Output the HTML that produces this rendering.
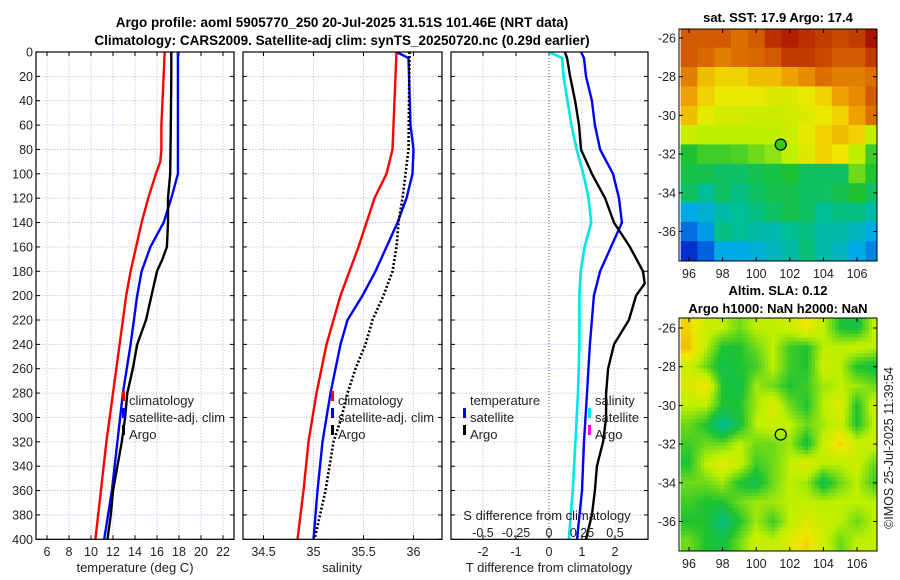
<!DOCTYPE html>
<html><head><meta charset="utf-8"><style>
html,body{margin:0;padding:0;background:#fff;}
svg{display:block;font-family:"Liberation Sans","DejaVu Sans",sans-serif;}
</style></head><body>
<svg id="fig" width="900" height="580" viewBox="0 0 900 580">
<defs>
<clipPath id="clipP1"><rect x="36" y="52" width="198" height="487"/></clipPath>
<clipPath id="clipP2"><rect x="243" y="52" width="199" height="487"/></clipPath>
<clipPath id="clipP3"><rect x="451" y="52" width="197" height="487"/></clipPath>
</defs>
<text x="342" y="27" font-size="13.5" font-weight="bold" text-anchor="middle">Argo profile: aoml 5905770_250 20-Jul-2025 31.51S 101.46E (NRT data)</text>
<text x="342" y="45" font-size="13.5" font-weight="bold" text-anchor="middle">Climatology: CARS2009. Satellite-adj clim: synTS_20250720.nc (0.29d earlier)</text>
<text x="778" y="22" font-size="13" font-weight="bold" text-anchor="middle">sat. SST: 17.9 Argo: 17.4</text>
<text x="778" y="295" font-size="13" font-weight="bold" text-anchor="middle">Altim. SLA: 0.12</text>
<text x="778" y="313" font-size="13" font-weight="bold" text-anchor="middle">Argo h1000: NaN h2000: NaN</text>
<text transform="translate(893,448) rotate(-90)" font-size="12.5" text-anchor="middle" fill="#222">©IMOS 25-Jul-2025 11:39:54</text>
<g id="layer"></g>
</svg>
<script>
// ---------- data ----------
const depthTicks = [0,20,40,60,80,100,120,140,160,180,200,220,240,260,280,300,320,340,360,380,400];
const tTicks = [6,8,10,12,14,16,18,20,22];
const sTicks = [34.5,35,35.5,36];
const dTTicks = [-2,-1,0,1,2];
const dSTicks = [-0.5,-0.25,0,0.25,0.5];
const dSTickLabels = ["-0.5","-0.25","0","0.25","0.5"];

const climTDepth = [0,20,40,60,80,90,100,120,140,160,180,200,240,280,320,360,400];
const climT = [16.7,16.6,16.5,16.4,16.4,16.3,15.9,15.2,14.6,14.1,13.6,13.2,12.6,12.0,11.4,10.9,10.4];
const satTDepth = [0,20,60,100,120,140,160,180,200,240,280,320,360,400];
const satT = [17.9,17.9,17.9,17.9,17.3,16.6,15.4,14.6,14.2,13.6,12.9,12.4,11.9,11.2];
const argoTDepth = [0,20,60,100,120,140,160,170,180,200,220,240,260,280,300,320,340,360,380,400];
const argoT = [17.3,17.3,17.25,17.2,17.0,17.0,16.9,16.5,16.0,15.5,15.0,14.2,13.8,13.3,13.1,12.8,12.4,12.0,11.8,11.5];

const climSDepth = [0,40,80,100,120,160,200,240,280,320,360,400];
const climS = [35.83,35.81,35.79,35.73,35.61,35.45,35.27,35.13,35.03,34.95,34.9,34.84];
const satSDepth = [0,5,60,80,100,120,140,160,180,200,220,240,280,320,360,400];
const satS = [35.83,35.95,35.97,36.0,35.99,35.93,35.84,35.73,35.62,35.49,35.34,35.27,35.17,35.09,35.04,35.0];
const argoSDepth = [0,80,100,120,140,160,180,200,220,240,260,280,300,320,360,400];
const argoS = [35.96,35.95,35.92,35.89,35.85,35.83,35.79,35.7,35.59,35.52,35.42,35.34,35.28,35.2,35.12,35.01];

const diffDepth = [0,5,20,40,60,80,100,120,140,160,180,200,240,280,320,360,400];
const satSDiff = [0.0,0.1,0.11,0.14,0.17,0.21,0.26,0.3,0.32,0.27,0.24,0.23,0.23,0.22,0.2,0.18,0.15];
const satTDiff = [0.97,1.06,1.12,1.3,1.39,1.55,1.94,2.12,2.21,1.88,1.55,1.36,1.24,1.15,1.06,1.0,0.85];
const argoDiffDepth = [0,5,20,40,60,80,100,120,140,160,180,190,200,220,240,260,280,300,320,340,360,380,400];
const argoTDiff = [0.48,0.55,0.64,0.79,0.91,0.97,1.3,1.7,1.97,2.45,2.85,2.9,2.64,2.42,1.97,1.79,1.73,1.73,1.64,1.45,1.39,1.3,1.12];

const mapLons = [96,97,98,99,100,101,102,103,104,105,106,107];
const mapLats = [-26,-27,-28,-29,-30,-31,-32,-33,-34,-35,-36,-37];
const lonTicks = [96,98,100,102,104,106];
const latTicks = [-26,-28,-30,-32,-34,-36];
const sstGrid = [
[0.85,0.85,0.85,0.82,0.85,0.92,0.95,0.92,0.9,0.88,0.9,0.97],
[0.85,0.83,0.8,0.82,0.83,0.85,0.9,0.9,0.88,0.85,0.85,0.9],
[0.8,0.72,0.7,0.7,0.72,0.72,0.75,0.78,0.82,0.8,0.8,0.82],
[0.75,0.7,0.67,0.67,0.67,0.65,0.65,0.67,0.7,0.75,0.78,0.85],
[0.72,0.66,0.63,0.63,0.62,0.62,0.63,0.65,0.67,0.7,0.75,0.82],
[0.62,0.6,0.6,0.6,0.6,0.6,0.62,0.66,0.7,0.72,0.7,0.6],
[0.5,0.52,0.52,0.53,0.55,0.57,0.6,0.65,0.7,0.68,0.6,0.52],
[0.48,0.47,0.45,0.45,0.47,0.48,0.5,0.45,0.45,0.45,0.55,0.5],
[0.45,0.4,0.45,0.42,0.45,0.47,0.47,0.45,0.45,0.47,0.5,0.45],
[0.3,0.33,0.38,0.4,0.42,0.45,0.47,0.45,0.4,0.42,0.42,0.38],
[0.22,0.28,0.42,0.4,0.38,0.37,0.4,0.42,0.38,0.38,0.35,0.3],
[0.12,0.2,0.3,0.3,0.32,0.35,0.38,0.43,0.38,0.35,0.3,0.25]];
const slaGrid = [
[0.7,0.62,0.6,0.55,0.6,0.6,0.62,0.68,0.6,0.5,0.48,0.6],
[0.72,0.6,0.5,0.5,0.55,0.6,0.52,0.5,0.6,0.6,0.62,0.6],
[0.62,0.55,0.47,0.5,0.52,0.6,0.52,0.5,0.62,0.6,0.5,0.48],
[0.65,0.68,0.5,0.47,0.58,0.55,0.5,0.52,0.58,0.6,0.58,0.55],
[0.6,0.6,0.5,0.5,0.58,0.65,0.55,0.5,0.6,0.65,0.5,0.62],
[0.55,0.5,0.4,0.48,0.6,0.62,0.6,0.55,0.58,0.62,0.5,0.6],
[0.52,0.55,0.55,0.6,0.55,0.55,0.58,0.48,0.62,0.7,0.62,0.62],
[0.5,0.6,0.65,0.62,0.52,0.55,0.6,0.65,0.6,0.6,0.62,0.55],
[0.55,0.55,0.58,0.5,0.47,0.55,0.6,0.58,0.47,0.55,0.6,0.52],
[0.52,0.5,0.5,0.55,0.58,0.58,0.6,0.6,0.6,0.6,0.6,0.6],
[0.5,0.5,0.42,0.5,0.58,0.52,0.6,0.65,0.62,0.6,0.55,0.6],
[0.55,0.5,0.48,0.55,0.62,0.6,0.65,0.7,0.62,0.55,0.6,0.6]];
const argoLon = 101.46, argoLat = -31.51;

// ---------- helpers ----------
const NS = "http://www.w3.org/2000/svg";
const layer = document.getElementById('layer');
function mk(tag, attrs, parent){ const e=document.createElementNS(NS,tag); for(const k in attrs) e.setAttribute(k,attrs[k]); (parent||layer).appendChild(e); return e; }
const TOP=52, BOT=539.3;
const yD = d => TOP + (BOT-TOP)*d/400;
const xT = t => 47 + (t-6)*11;
const xS = s => 263.5 + (s-34.5)*100;
const xDT = t => 549 + t*33;
const xDS = s => 549 + s*132;
const mx = lon => 689 + (lon-96)*16.8;
const myTop = lat => 38 + (-26-lat)*19.35;
const myBot = lat => 328 + (-26-lat)*19.35;

const cmapStops = [[0,[0,0,140]],[0.15,[0,60,220]],[0.3,[0,170,230]],[0.4,[0,190,150]],[0.5,[30,195,50]],[0.6,[190,240,0]],[0.68,[240,230,0]],[0.75,[240,160,0]],[0.85,[210,90,0]],[1,[160,0,0]]];
function jet(v){
  v=Math.max(0,Math.min(1,v));
  for(let i=1;i<cmapStops.length;i++){
    if(v<=cmapStops[i][0]){
      const [a,ca]=cmapStops[i-1],[b,cb]=cmapStops[i];
      const f=(v-a)/(b-a);
      return `rgb(${Math.round(ca[0]+(cb[0]-ca[0])*f)},${Math.round(ca[1]+(cb[1]-ca[1])*f)},${Math.round(ca[2]+(cb[2]-ca[2])*f)})`;
    }
  }
  return 'rgb(160,0,0)';
}

function panel(name, x0, x1, xticks, xfun, xlabels){
  const g = mk('g',{});
  
  
  xticks.forEach((t,i)=>{
    const x=xfun(t);
    const l=mk('line',{x1:x,x2:x,y1:TOP,y2:BOT,stroke:'#b8c0e8','stroke-width':0.8,'stroke-dasharray':'1.5,1.5'},g);
    
    
    mk('line',{x1:x,x2:x,y1:BOT,y2:BOT-4,stroke:'#000'},g);
    mk('line',{x1:x,x2:x,y1:TOP,y2:TOP+4,stroke:'#000'},g);
    if(xlabels){
      const tx=mk('text',{x:x,y:556,'font-size':12.5,'text-anchor':'middle',fill:'#222'},g);
      tx.textContent=xlabels[i];
      
      
    }
  });
  depthTicks.forEach(d=>{
    const y=yD(d);
    const l=mk('line',{x1:x0,x2:x1,y1:y,y2:y,stroke:'#b8c0e8','stroke-width':0.8,'stroke-dasharray':'1.5,1.5'},g);
    
    
    mk('line',{x1:x0,x2:x0+4,y1:y,y2:y,stroke:'#000'},g);
    mk('line',{x1:x1,x2:x1-4,y1:y,y2:y,stroke:'#000'},g);
  });
  return g;
}
function line(name, xs, ds, xfun, color, w, dash, clip){
  const pts = xs.map((v,i)=>xfun(v).toFixed(1)+','+yD(ds[i]).toFixed(1)).join(' ');
  const p = mk('polyline',{points:pts,fill:'none',stroke:color,'stroke-width':w,'stroke-linejoin':'round','clip-path':'url(#'+clip+')'});
  if(dash) p.setAttribute('stroke-dasharray',dash);
  
  
}
function frame(name,x0,x1){
  const r=mk('rect',{x:x0,y:TOP,width:x1-x0,height:BOT-TOP,fill:'none',stroke:'#000','stroke-width':1.2});
  
  
}
function txt(name,s,x,y,size,anchor,fill){
  const t=mk('text',{x:x,y:y,'font-size':size,'text-anchor':anchor||'start',fill:fill||'#222'});
  t.textContent=s;
  
  
  return t;
}
function legMark(name,x,y,color){
  const r=mk('rect',{x:x,y:y-11,width:3,height:10,fill:color});
  
  
}

depthTicks.forEach(d=>{ txt('y-tick-label',String(d),33,yD(d)+4.5,12.5,'end'); });

// ---- panel 1: temperature
panel('temperature-panel',36,234,tTicks,xT,tTicks.map(String));
line('temp-climatology-line',climT,climTDepth,xT,'#ff0000',2.4,null,'clipP1');
line('temp-satellite-line',satT,satTDepth,xT,'#0000ff',2.4,null,'clipP1');
line('temp-argo-line',argoT,argoTDepth,xT,'#000',2.4,null,'clipP1');
frame('temperature-frame',36,234);
txt('temp-x-axis-title','temperature (deg C)',135,572,13,'middle');
legMark('legend-climatology-mark',122,402,'#ff0000'); txt('legend-climatology','climatology',129,405,13);
legMark('legend-satellite-mark',122,419,'#0000ff'); txt('legend-satellite','satellite-adj. clim',129,422,13);
legMark('legend-argo-mark',122,436,'#000'); txt('legend-argo','Argo',129,439,13);

// ---- panel 2: salinity
panel('salinity-panel',243,442,sTicks,xS,sTicks.map(String));
line('sal-climatology-line',climS,climSDepth,xS,'#ff0000',2.4,null,'clipP2');
line('sal-satellite-line',satS,satSDepth,xS,'#0000ff',2.4,null,'clipP2');
line('sal-argo-line',argoS,argoSDepth,xS,'#000',2.6,'2,2','clipP2');
frame('salinity-frame',243,442);
txt('sal-x-axis-title','salinity',342,572,13,'middle');
legMark('legend2-climatology-mark',331,402,'#ff0000'); txt('legend2-climatology','climatology',338,405,13);
legMark('legend2-satellite-mark',331,419,'#0000ff'); txt('legend2-satellite','satellite-adj. clim',338,422,13);
legMark('legend2-argo-mark',331,436,'#000'); txt('legend2-argo','Argo',338,439,13);

// ---- panel 3: differences
panel('difference-panel',451,648,dTTicks,xDT,dTTicks.map(String));
const z=mk('line',{x1:549,x2:549,y1:TOP,y2:BOT,stroke:'#4a6a2a','stroke-width':1,'stroke-dasharray':'1,2'});


line('sal-diff-satellite-line',satSDiff,diffDepth,xDS,'#00e5e5',2.6,null,'clipP3');
line('temp-diff-satellite-line',satTDiff,diffDepth,xDT,'#0000ff',2.4,null,'clipP3');
line('temp-diff-argo-line',argoTDiff,argoDiffDepth,xDT,'#000',2.4,null,'clipP3');
frame('difference-frame',451,648);
txt('t-diff-axis-title','T difference from climatology',549,572,13,'middle');
txt('s-diff-axis-title','S difference from climatology',547,520,13,'middle');
dSTicks.forEach((s,i)=>{ txt('s-diff-tick-label',dSTickLabels[i],xDS(s),537,12.5,'middle'); });
txt('legend3-temperature-header','temperature',470,405,13);
legMark('legend3-temp-satellite-mark',463,419,'#0000ff'); txt('legend3-temp-satellite','satellite',470,422,13);
legMark('legend3-temp-argo-mark',463,436,'#000'); txt('legend3-temp-argo','Argo',470,439,13);
txt('legend3-salinity-header','salinity',595,405,13);
legMark('legend3-sal-satellite-mark',588,419,'#00e5e5'); txt('legend3-sal-satellite','satellite',595,422,13);
legMark('legend3-sal-argo-mark',588,436,'#ff00ff'); txt('legend3-sal-argo','Argo',595,439,13);

// ---- maps
function sample(grid, fr, fc){
  // bilinear sample in grid index space (clamped)
  fr=Math.max(0,Math.min(11,fr)); fc=Math.max(0,Math.min(11,fc));
  const r0=Math.floor(fr), c0=Math.floor(fc), r1=Math.min(11,r0+1), c1=Math.min(11,c0+1);
  const a=fr-r0, b=fc-c0;
  return grid[r0][c0]*(1-a)*(1-b)+grid[r0][c1]*(1-a)*b+grid[r1][c0]*a*(1-b)+grid[r1][c1]*a*b;
}
function map(name, grid, yfun, top, bot, smooth){
  const g=mk('g',{});
  
  
  const sub = smooth ? 5 : 1;
  mapLats.forEach((lat,r)=>{
    mapLons.forEach((lon,c)=>{
      for(let i=0;i<sub;i++){
        for(let j=0;j<sub;j++){
          const la0=lat+0.5-i/sub, la1=lat+0.5-(i+1)/sub;
          const lo0=lon-0.5+j/sub, lo1=lon-0.5+(j+1)/sub;
          const x0=Math.max(mx(lo0),679), x1=Math.min(mx(lo1),877);
          const y0=Math.max(yfun(la0),top), y1=Math.min(yfun(la1),bot);
          if(x1<=x0||y1<=y0) continue;
          const v = smooth ? sample(grid, r+(i+0.5)/sub-0.5, c+(j+0.5)/sub-0.5) : grid[r][c];
          const cell=mk('rect',{x:x0.toFixed(1),y:y0.toFixed(1),width:(x1-x0+0.4).toFixed(1),height:(y1-y0+0.4).toFixed(1),fill:jet(v)},g);
          
          
        }
      }
    });
  });
  mk('rect',{x:679,y:top,width:198,height:bot-top,fill:'none',stroke:'#000','stroke-width':1},g);
  lonTicks.forEach(l=>{
    const x=mx(l);
    mk('line',{x1:x,x2:x,y1:bot,y2:bot-4,stroke:'#000'},g);
    mk('line',{x1:x,x2:x,y1:top,y2:top+4,stroke:'#000'},g);
    const t=mk('text',{x:x,y:bot+17,'font-size':12.5,'text-anchor':'middle',fill:'#222'},g);
    t.textContent=String(l);
    
    
  });
  latTicks.forEach(l=>{
    const y=yfun(l);
    mk('line',{x1:679,x2:683,y1:y,y2:y,stroke:'#000'},g);
    mk('line',{x1:877,x2:873,y1:y,y2:y,stroke:'#000'},g);
    const t=mk('text',{x:676,y:y+4.5,'font-size':12.5,'text-anchor':'end',fill:'#222'},g);
    t.textContent=String(l);
    
    
  });
  return g;
}
map('sst-map',sstGrid,myTop,29,261,false);
const c1=mk('circle',{cx:mx(argoLon),cy:myTop(argoLat),r:5.5,fill:'#33cc11',stroke:'#000','stroke-width':1.2});


map('sla-map',slaGrid,myBot,318,551,true);
const c2=mk('circle',{cx:mx(argoLon),cy:myBot(argoLat),r:5.5,fill:'none',stroke:'#000','stroke-width':1.2});


</script>
</body></html>
